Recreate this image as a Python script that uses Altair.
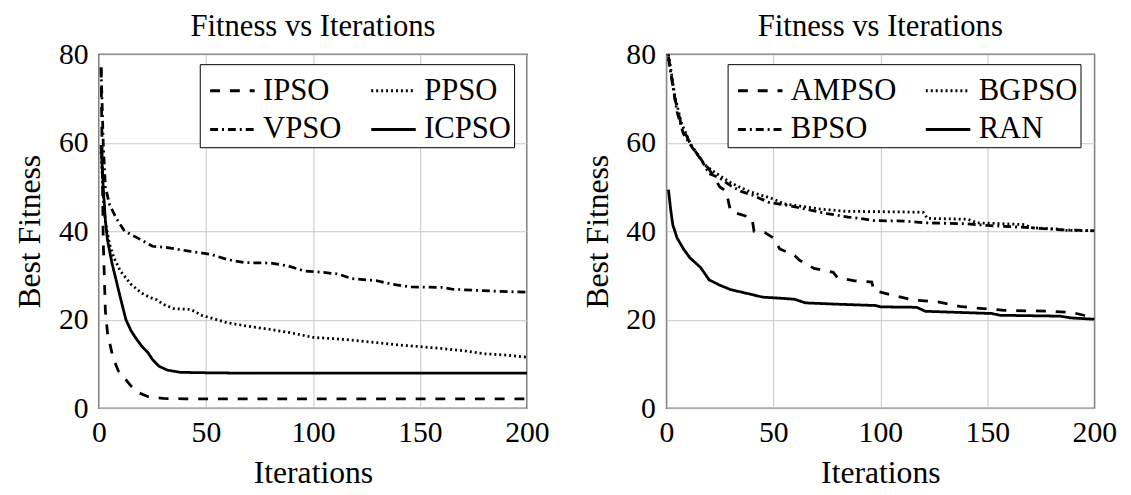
import altair as alt
import pandas as pd

# ---------------- Left panel data ----------------
IPSO_X = [1, 2, 3, 4, 6.5, 9, 12, 15, 19, 23, 30, 40, 200]
IPSO_Y = [77, 38, 22, 17, 11.5, 8.5, 6.8, 5, 3.4, 2.6, 2.2, 2.1, 2.1]

PPSO_X = [1, 2, 3, 5, 7, 10, 15, 20, 24, 27, 30, 35, 43, 48, 55, 60, 70, 80, 90, 100,
          110, 120, 130, 140, 150, 160, 170, 180, 190, 200]
PPSO_Y = [58, 48, 42, 37, 34, 31, 28, 26, 25, 24.5, 23.5, 22.5, 22.3, 21, 20, 19.3, 18.5, 17.8, 17, 16,
          15.7, 15.3, 14.8, 14.3, 13.9, 13.5, 13, 12.3, 12, 11.5]

VPSO_X = [1, 2, 3, 5, 8, 12, 18, 25, 32, 42, 52, 60, 68, 80, 88, 96, 105, 112, 118, 130,
          137, 146, 160, 165, 177, 200]
VPSO_Y = [77, 60, 50, 46, 43, 40, 38.5, 36.6, 36.3, 35.5, 34.8, 33.6, 32.9, 32.8, 32.2, 31, 30.7, 30.3, 29.3, 28.8,
          28, 27.4, 27.3, 26.9, 26.6, 26.2]

ICPSO_X = [1, 2, 3, 4, 6, 8, 10, 12.6, 15, 17, 20, 23, 25, 28, 32, 38, 50, 70, 200]
ICPSO_Y = [59.5, 50, 42.5, 38, 33, 29, 25, 20, 17.5, 16, 14, 12.5, 11, 9.5, 8.6, 8.1, 8.0, 7.9, 7.9]

# ---------------- Right panel data ----------------
AMPSO_X = [1, 4, 7, 11, 15, 20, 25, 28, 30, 40, 41, 46, 50, 53, 60, 62, 69, 78, 80, 88,
           96, 97, 106, 116, 127, 137, 148, 158, 180, 190, 195, 200]
AMPSO_Y = [79.5, 70, 64, 60, 57, 54, 50, 49, 44.5, 43, 40, 39.7, 38.5, 36, 34.5, 33.5, 31.6, 30.7, 29.5, 28.8,
           28.5, 26.6, 25.5, 24.4, 24, 23, 22.5, 22.1, 21.9, 21.6, 21, 20.5]

BGPSO_X = [1, 2, 4, 7, 11, 15, 18, 22, 30, 35, 40, 50, 55, 65, 72, 84, 120, 122, 141, 145,
           168, 170, 183, 186, 200]
BGPSO_Y = [80, 77, 70.5, 64.5, 60, 57, 55, 53.5, 51, 49.8, 48.8, 47.3, 46.2, 45.5, 45, 44.5, 44.3, 42.9, 42.7, 41.9,
           41.5, 40.8, 40.5, 40.2, 40.1]

BPSO_X = [1, 3, 5, 8, 12, 16, 20, 25, 30, 35, 40, 48, 55, 65, 75, 85, 92, 97, 112, 120,
          140, 150, 170, 185, 200]
BPSO_Y = [79, 73, 67, 62, 59, 56.5, 53, 52, 50.3, 49, 48.2, 46.5, 46, 45, 44, 43.2, 42.8, 42.4, 42.3, 41.9,
          41.7, 41.3, 40.8, 40.3, 40.1]

RAN_X = [1, 2, 3, 5, 8, 11, 16, 20, 25, 30, 39, 45, 55, 60, 65, 80, 98, 100, 117, 121,
         152, 156, 184, 189, 200]
RAN_Y = [49.4, 45, 41.5, 38.5, 36, 34, 31.8, 29, 27.8, 26.8, 25.8, 25.1, 24.8, 24.6, 23.8, 23.5, 23.2, 22.9, 22.8, 21.9,
         21.4, 21, 20.8, 20.4, 20.1]

# legend entries are laid out column by column
LEFT_NAMES = ["IPSO", "VPSO", "PPSO", "ICPSO"]
RIGHT_NAMES = ["AMPSO", "BPSO", "BGPSO", "RAN"]
X_TICKS = [0, 50, 100, 150, 200]
Y_TICKS = [0, 20, 40, 60, 80]

DASH_DASHED = [10, 10]
DASH_DOTTED = [2, 3]
DASH_DASHDOT = [8, 4, 2, 4]
DASH_SOLID = [1, 0]


def frame(names, xs, ys):
    rows = []
    for n, xv, yv in zip(names, xs, ys):
        for a, b in zip(xv, yv):
            rows.append({"Iteration": a, "Fitness": b, "Algorithm": n})
    return pd.DataFrame(rows)


left_df = frame(["IPSO", "PPSO", "VPSO", "ICPSO"], [IPSO_X, PPSO_X, VPSO_X, ICPSO_X],
                [IPSO_Y, PPSO_Y, VPSO_Y, ICPSO_Y])
right_df = frame(["AMPSO", "BGPSO", "BPSO", "RAN"], [AMPSO_X, BGPSO_X, BPSO_X, RAN_X],
                 [AMPSO_Y, BGPSO_Y, BPSO_Y, RAN_Y])

FONT = "Liberation Serif"

AXIS_STYLE = dict(
    labelFont=FONT, labelFontSize=30, labelColor="black", labelFlush=False,
    titleFont=FONT, titleFontSize=32, titleFontWeight="normal", titleColor="black",
    grid=True, gridColor="#c8c8c8", gridWidth=1, domain=False, ticks=False,
)


def panel(df, names, dashes, legend_x):
    return alt.Chart(df, title=alt.Title("Fitness vs Iterations", fontSize=31, font=FONT,
                                          fontWeight="normal", color="black", offset=-4)).mark_line(
        strokeWidth=2.8, color="black"
    ).encode(
        x=alt.X("Iteration:Q", scale=alt.Scale(domain=[0, 200], nice=False),
                axis=alt.Axis(values=X_TICKS, title="Iterations", labelPadding=10,
                              titlePadding=10, **AXIS_STYLE)),
        y=alt.Y("Fitness:Q", scale=alt.Scale(domain=[0, 80], nice=False),
                axis=alt.Axis(values=Y_TICKS, title="Best Fitness", labelPadding=11,
                              titlePadding=12, **AXIS_STYLE)),
        strokeDash=alt.StrokeDash(
            "Algorithm:N",
            scale=alt.Scale(domain=names, range=dashes),
            legend=alt.Legend(
                title=None, orient="none", legendX=legend_x, legendY=10, columns=2,
                symbolType="stroke", symbolSize=2025, symbolStrokeWidth=3,
                symbolStrokeColor="black", labelFont=FONT, labelFontSize=31,
                labelColor="black", fillColor="white", strokeColor="black",
                padding=3, rowPadding=-7, columnPadding=22, labelOffset=7,
                symbolOffset=6, labelLimit=300,
            ),
        ),
        detail="Algorithm:N",
    ).properties(width=433, height=358)


left = panel(left_df, LEFT_NAMES, [DASH_DASHED, DASH_DASHDOT, DASH_DOTTED, DASH_SOLID], 102)
right = panel(right_df, RIGHT_NAMES, [DASH_DASHED, DASH_DASHDOT, DASH_DOTTED, DASH_SOLID], 62)

chart = alt.hconcat(left, right, spacing=141, bounds="flush").resolve_scale(
    strokeDash="independent"
).resolve_legend(strokeDash="independent").configure(
    padding={"top": 0, "left": 5, "right": 5, "bottom": 0}, font=FONT
).configure_axis(labelFont=FONT, titleFont=FONT).configure_view(stroke="black", strokeWidth=1.3)

chart.save("out.html", embed_options={"renderer": "svg", "actions": False})
